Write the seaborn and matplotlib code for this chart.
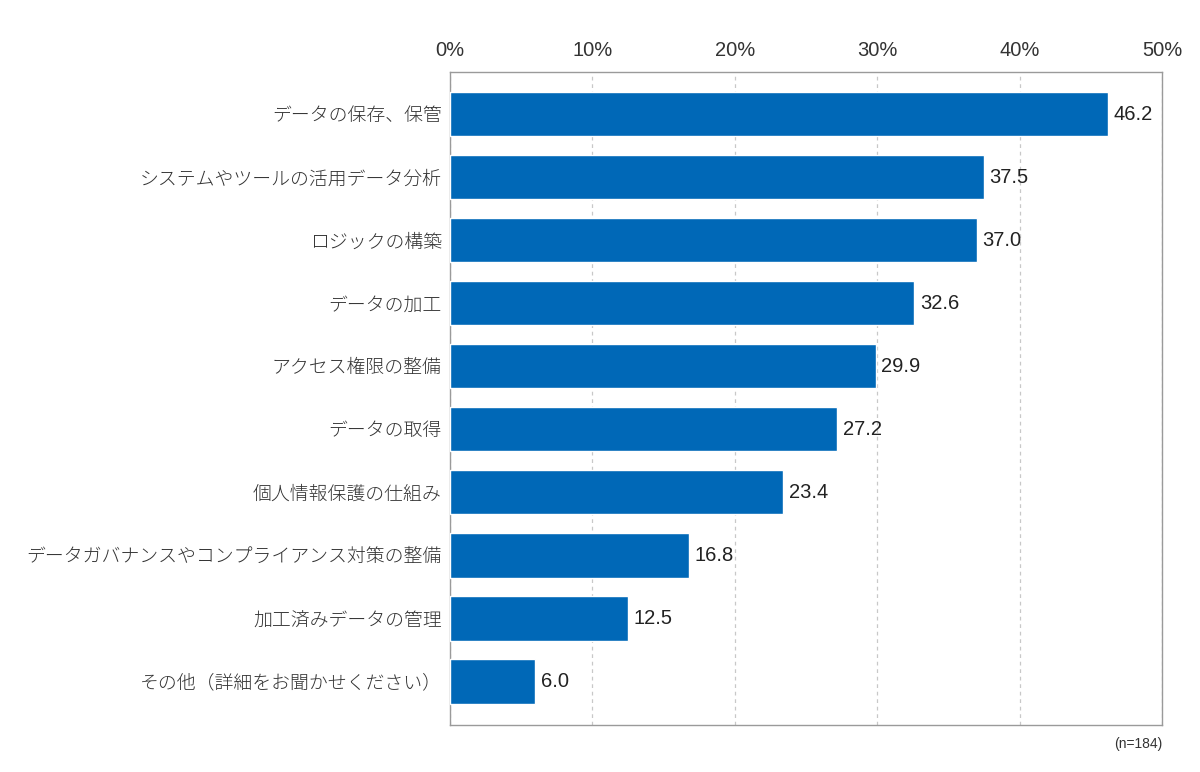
import matplotlib
matplotlib.use('Agg')
import matplotlib.pyplot as plt
import seaborn as sns
import pandas as pd

categories = [
    'データの保存、保管',
    'システムやツールの活用データ分析',
    'ロジックの構築',
    'データの加工',
    'アクセス権限の整備',
    'データの取得',
    '個人情報保護の仕組み',
    'データガバナンスやコンプライアンス対策の整備',
    '加工済みデータの管理',
    'その他（詳細をお聞かせください）',
]
values = [46.2, 37.5, 37.0, 32.6, 29.9, 27.2, 23.4, 16.8, 12.5, 6.0]
tick_values = [0, 10, 20, 30, 40, 50]
tick_labels = ['0%', '10%', '20%', '30%', '40%', '50%']
note = '(n=184)'

sns.set_style("white")
plt.rcParams['font.family'] = ['Noto Sans CJK JP', 'DejaVu Sans']

num_font = ['Liberation Sans', 'DejaVu Sans']

df = pd.DataFrame({'item': categories, 'value': values})

fig = plt.figure(figsize=(12, 7.72), dpi=100)
ax = fig.add_axes([0.375, 0.0609, 0.5933, 0.8458])

sns.barplot(data=df, x='value', y='item', color='#0068b7', saturation=1,
            width=0.7, ax=ax, zorder=3)

ax.set_xlim(0, 50)
ax.set_ylim(9.69, -0.67)
ax.xaxis.tick_top()
ax.set_xticks(tick_values)
ax.set_xticklabels(tick_labels, fontsize=14.5, color='#333333', family=num_font)
ax.tick_params(axis='x', length=0, pad=9)
ax.tick_params(axis='y', length=0, pad=6)
for lbl in ax.get_yticklabels():
    lbl.set_fontsize(13.6)
    lbl.set_color('#333333')
    lbl.set_fontweight('light')
ax.set_xlabel('')
ax.set_ylabel('')

ax.grid(axis='x', linestyle=(0, (3, 3)), color='#c8c8c8', linewidth=0.9, zorder=0)
ax.grid(axis='y', visible=False)
for side in ['top', 'bottom', 'left', 'right']:
    ax.spines[side].set_visible(True)
    ax.spines[side].set_color('#9a9a9a')
    ax.spines[side].set_linewidth(1.0)

for i, v in enumerate(values):
    ax.text(v + 0.4, i, f'{v:.1f}', va='center', ha='left', fontsize=14.5,
            color='#222222', family=num_font, zorder=4)

fig.text(0.9683, 0.036, note, ha='right', va='center', fontsize=10,
         color='#333333', family=num_font)

fig.savefig('out.png', dpi=100)
